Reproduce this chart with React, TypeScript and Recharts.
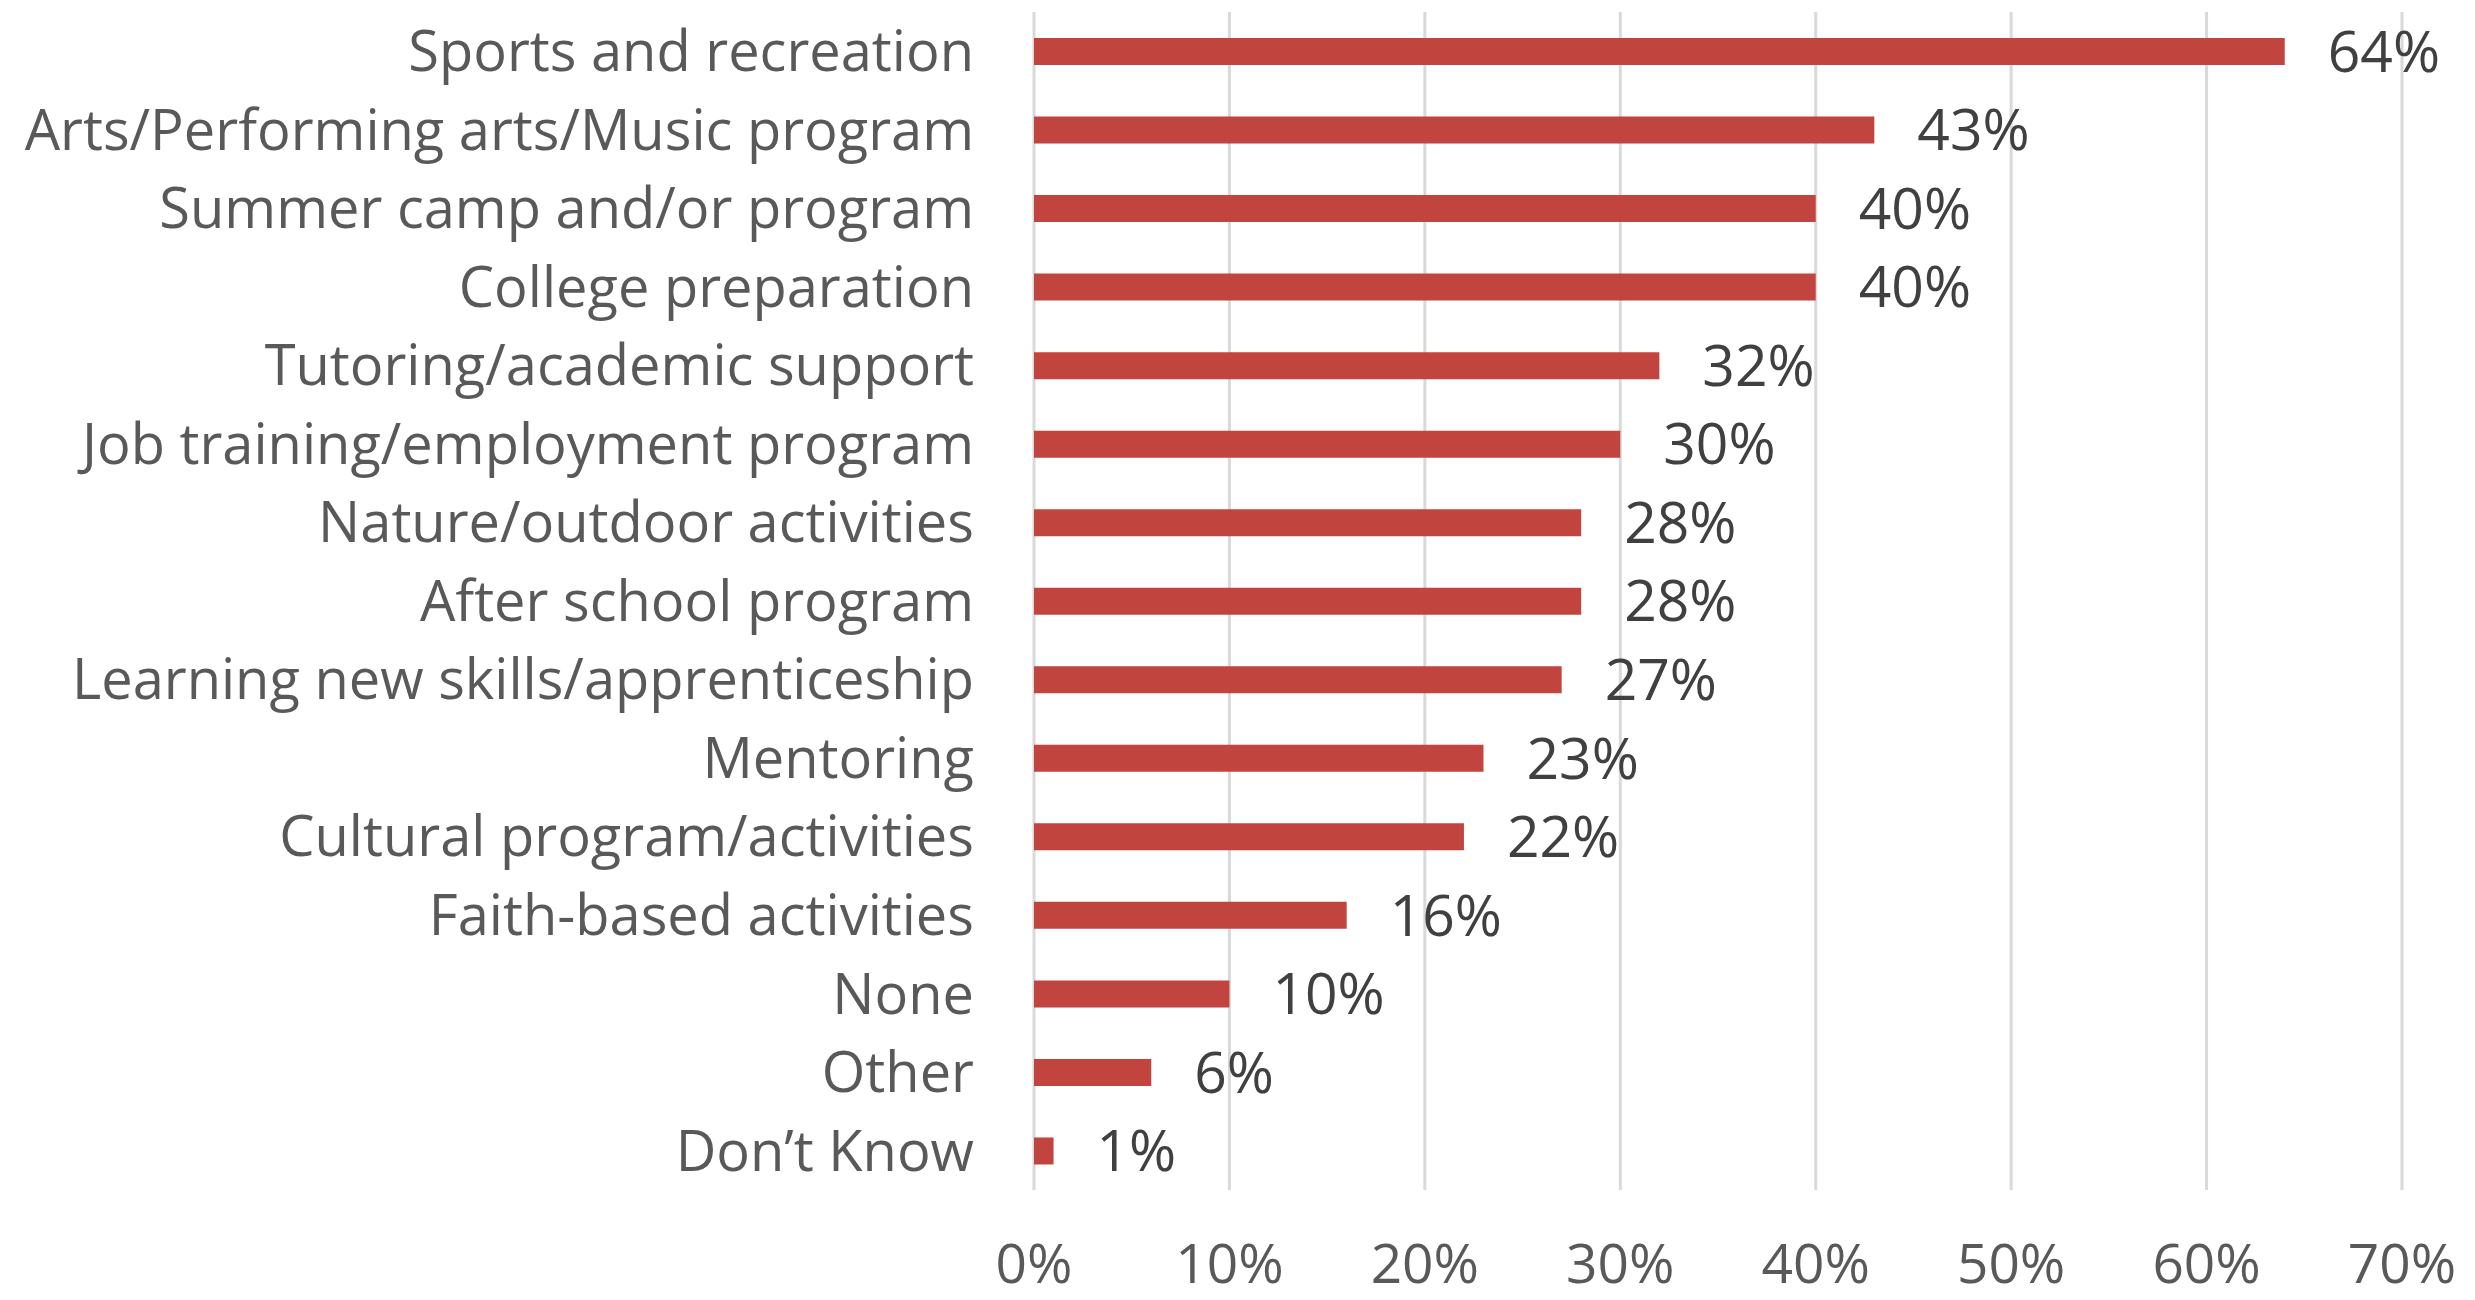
import React from 'react';
import { BarChart, Bar, XAxis, YAxis, CartesianGrid, LabelList } from 'recharts';

const categories = [
  'Sports and recreation',
  'Arts/Performing arts/Music program',
  'Summer camp and/or program',
  'College preparation',
  'Tutoring/academic support',
  'Job training/employment program',
  'Nature/outdoor activities',
  'After school program',
  'Learning new skills/apprenticeship',
  'Mentoring',
  'Cultural program/activities',
  'Faith-based activities',
  'None',
  'Other',
  'Don\u2019t Know',
];

const shares = [0.64, 0.43, 0.4, 0.4, 0.32, 0.3, 0.28, 0.28, 0.27, 0.23, 0.22, 0.16, 0.1, 0.06, 0.01];

const xTicks = [0, 0.1, 0.2, 0.3, 0.4, 0.5, 0.6, 0.7];

const data = categories.map((name, i) => ({ name, value: shares[i] }));

const pct = (v: number) => `${Math.round(v * 100)}%`;

const font = '"Open Sans", sans-serif';

export default function App() {
  return (
    <div style={{ position: 'absolute', left: 0, top: 0, background: '#fff' }}>
      <BarChart
        width={2475}
        height={1300}
        data={data}
        layout="vertical"
        margin={{ top: 12, right: 73, bottom: 0, left: 0 }}
        barSize={27}
      >
        <CartesianGrid horizontal={false} stroke="#d9d9d9" strokeWidth={3} />
        <XAxis
          type="number"
          domain={[0, 0.7]}
          ticks={xTicks}
          tickFormatter={pct}
          axisLine={false}
          tickLine={false}
          tickSize={0}
          tickMargin={54}
          height={110}
          tick={{ fill: '#595959', fontSize: 55, fontFamily: font }}
        />
        <YAxis
          type="category"
          dataKey="name"
          width={1034}
          axisLine={false}
          tickLine={false}
          tickSize={0}
          tickMargin={60}
          interval={0}
          tick={{ fill: '#595959', fontSize: 56, fontFamily: font }}
        />
        <Bar dataKey="value" fill="#c2443f" isAnimationActive={false}>
          <LabelList
            dataKey="value"
            position="right"
            offset={43}
            formatter={(v: any) => pct(Number(v))}
            style={{ fill: '#404040', fontSize: 57, fontFamily: font }}
          />
        </Bar>
      </BarChart>
    </div>
  );
}
